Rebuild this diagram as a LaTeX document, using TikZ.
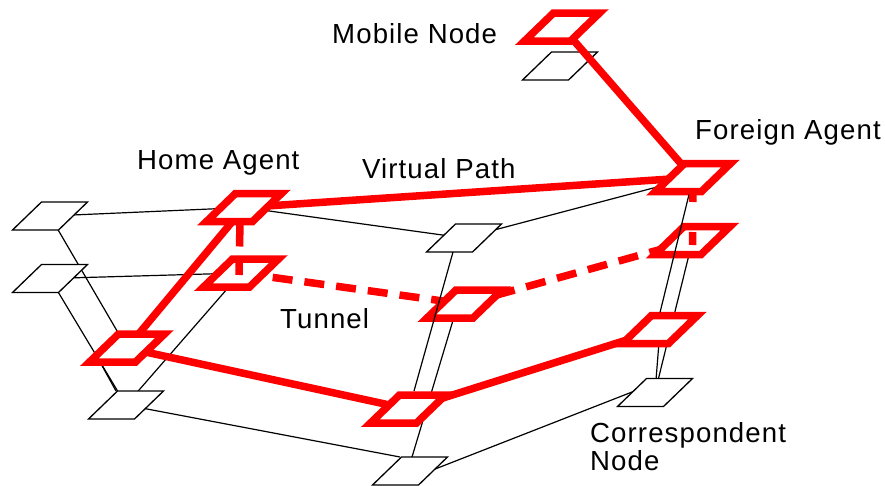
\documentclass[tikz,border=0pt]{standalone}
\usepackage{fontspec}
\setmainfont{Liberation Sans}[LetterSpace=4]
\usetikzlibrary{calc}
\tikzset{
  blk/.style={line width=1.2pt, draw=black},
  rline/.style={draw=red, line width=7.5pt},
  rdash/.style={rline, dash pattern=on 20pt off 12pt},
  lbl/.style={anchor=base west, inner sep=0pt, font=\fontsize{27.6}{32}\selectfont},
  bpg/.pic={\filldraw[fill=white, draw=black, line width=1.3pt] (-8.5,-14) -- (37.5,-14) -- (8.5,14) -- (-37.5,14) -- cycle;},
  rpg/.pic={\filldraw[fill=white, draw=red, line width=7.5pt, line join=miter] (-8.5,-14) -- (37.5,-14) -- (8.5,14) -- (-37.5,14) -- cycle;}
}
\begin{document}
\begin{tikzpicture}[x=1pt,y=-1pt]
\useasboundingbox (0,0) rectangle (885,485);
% black network nodes
\coordinate (L1) at (50,216);
\coordinate (L2) at (50,278.5);
\coordinate (L3) at (126,405);
\coordinate (M1) at (464,238);
\coordinate (M3) at (410,471);
\coordinate (MNb) at (560,66);
\coordinate (CN) at (655,392.5);
% red path nodes
\coordinate (MN) at (562,27);
\coordinate (FA) at (693,177.5);
\coordinate (FA2) at (692.5,240.5);
\coordinate (CNr) at (660,329.5);
\coordinate (HA) at (244,207.5);
\coordinate (HA2) at (241,273);
\coordinate (Lr) at (127,348);
\coordinate (M2) at (464.5,304);
\coordinate (BM) at (408,409);
% black links (underneath)
\draw[blk] (L1) -- (HA);
\draw[blk] (HA) -- (M1);
\draw[blk] (M1) -- (FA);
\draw[blk] (L2) -- (HA2);
\draw[blk] (L1) -- (Lr);
\draw[blk] (L2) -- (L3);
\draw[blk] (HA2) -- (L3);
\draw[blk] ($(Lr)+(-27,14)$) -- ($(L3)+(-10,-14)$);
\draw[blk] (L3) -- ($(M3)+(-10,-14)$);
\draw[blk] ($(M3)+(20,0)$) -- ($(CN)+(-14,-4)$);
\draw[blk] ($(M2)+(-12,18)$) -- ($(M3)+(2,-14)$);
\draw[blk] (FA2) -- (CN);
\draw[blk] (CNr) -- (CN);
% black boxes
\foreach \n in {L1,L2,L3,M1,M3,MNb,CN} \pic at (\n) {bpg};
% red links
\draw[rline] (MN) -- (FA);
\draw[rline] (HA) -- (FA);
\draw[rline] (HA) -- (Lr);
\draw[rline] (Lr) -- (BM);
\draw[rline] (BM) -- (CNr);
\draw[rdash] (HA2) -- (M2);
\draw[rdash] (M2) -- (FA2);
% red boxes
\foreach \n in {MN,FA,FA2,CNr,HA,HA2,Lr,M2,BM} \pic at (\n) {rpg};
% links on top
\draw[blk] ($(M1)+(-11,14)$) -- ($(BM)+(6,-18)$);
\draw[blk] ($(FA)+(-4,17)$) -- ($(CNr)+(0,-17)$);
\draw[rline, dash pattern=on 25pt off 15pt] ($(HA)+(-4,14)$) -- ($(HA2)+(-2,2)$);
\draw[rline, dash pattern=on 10.5pt off 30pt on 13pt off 100pt] ($(FA)+(0,14)$) -- ($(FA2)+(0,5)$);
% labels
\node[lbl] (tMN) at (332,43) {Mobile Node};
\node[lbl] (tHA) at (137,169) {Home Agent};
\node[lbl] (tVP) at (362,178) {Virtual Path};
\node[lbl] (tFA) at (695,139) {Foreign Agent};
\node[lbl] (tTu) at (280,328) {Tunnel};
\node[lbl] (tCN1) at (590,442) {Correspondent};
\node[lbl] (tCN2) at (590,470) {Node};
\end{tikzpicture}
\end{document}
